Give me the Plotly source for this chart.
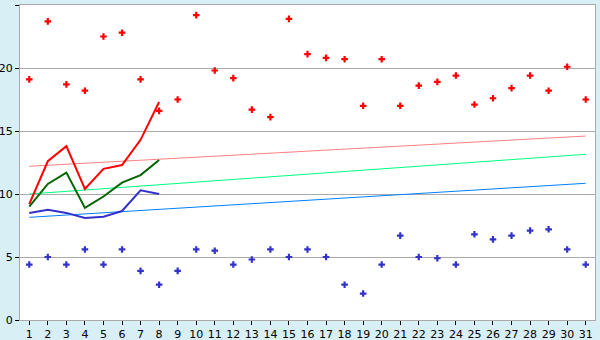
import plotly.graph_objects as go

days = list(range(1, 32))
tick_labels = [str(d) for d in days]

high_points = [19.1, 23.7, 18.7, 18.2, 22.5, 22.8, 19.1, 16.6, 17.5, 24.2,
               19.8, 19.2, 16.7, 16.1, 23.9, 21.1, 20.8, 20.7, 17.0, 20.7,
               17.0, 18.6, 18.9, 19.4, 17.1, 17.6, 18.4, 19.4, 18.2, 20.1, 17.5]
low_points = [4.4, 5.0, 4.4, 5.6, 4.4, 5.6, 3.9, 2.8, 3.9, 5.6,
              5.5, 4.4, 4.8, 5.6, 5.0, 5.6, 5.0, 2.8, 2.1, 4.4,
              6.7, 5.0, 4.9, 4.4, 6.8, 6.4, 6.7, 7.1, 7.2, 5.6, 4.4]

line_days = [1, 2, 3, 4, 5, 6, 7, 8]
red_line = [9.2, 12.6, 13.8, 10.4, 12.0, 12.3, 14.3, 17.3]
green_line = [9.0, 10.8, 11.7, 8.9, 9.8, 10.9, 11.5, 12.7]
blue_line = [8.5, 8.75, 8.5, 8.1, 8.2, 8.65, 10.3, 10.0]

trend_days = [1, 31]
trend_red = [12.2, 14.6]
trend_green = [10.0, 13.15]
trend_blue = [8.15, 10.85]

fig = go.Figure()

for y, c in [(trend_red, "#ff8080"), (trend_green, "#00ff80"), (trend_blue, "#0080ff")]:
    fig.add_trace(go.Scatter(x=trend_days, y=y, mode="lines",
                             line=dict(color=c, width=1), hoverinfo="skip"))

fig.add_trace(go.Scatter(x=days, y=high_points, mode="markers",
                         marker=dict(symbol="cross", size=5.5, color="#ff0000",
                                     line=dict(width=0))))
fig.add_trace(go.Scatter(x=days, y=low_points, mode="markers",
                         marker=dict(symbol="cross", size=5.5, color="#3333cc",
                                     line=dict(width=0))))

for y, c in [(red_line, "#ff0000"), (green_line, "#006600"), (blue_line, "#3333cc")]:
    fig.add_trace(go.Scatter(x=line_days, y=y, mode="lines",
                             line=dict(color=c, width=2)))

fig.update_layout(
    width=600, height=340,
    margin=dict(l=20, r=5, t=5, b=20),
    paper_bgcolor="#d9eff6",
    plot_bgcolor="#ffffff",
    showlegend=False,
    font=dict(family="DejaVu Sans", size=11, color="#000000"),
)
fig.update_xaxes(range=[0.5, 31.5], tickvals=days, ticktext=tick_labels,
                 automargin=False,
                 showgrid=False, zeroline=False, showline=True,
                 linecolor="#aaaaaa", linewidth=1, mirror=True,
                 ticks="outside", ticklen=4, tickcolor="#000000")
fig.update_yaxes(range=[0, 25], tickvals=[0, 5, 10, 15, 20, 25],
                 automargin=False,
                 showgrid=True, gridcolor="#aaaaaa", gridwidth=1,
                 zeroline=False, showline=True, linecolor="#aaaaaa",
                 linewidth=1, mirror=True,
                 ticks="outside", ticklen=4, tickcolor="#000000")

fig.write_html("out.html", config={"displayModeBar": False},
               post_script="document.body.style.margin='0';document.body.style.background='#d9eff6';")
